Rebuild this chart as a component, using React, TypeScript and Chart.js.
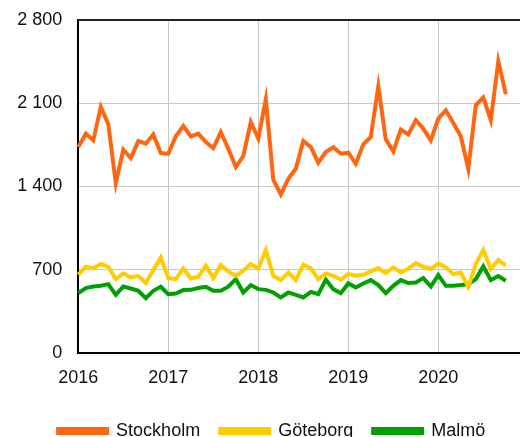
import React, { useEffect, useRef } from "react";
import { Chart, registerables } from "chart.js";

Chart.register(...registerables);

const years = [2016, 2017, 2018, 2019, 2020];
const monthNames = ["jan", "feb", "mar", "apr", "maj", "jun", "jul", "aug", "sep", "okt", "nov", "dec"];
// monthly categories Jan 2016 – Dec 2020, plus a short run-out into 2021 (off-screen)
const categories: string[] = [];
years.forEach((y) => monthNames.forEach((m) => categories.push(`${m} ${y}`)));
const runOut = ["jan 2021", "feb 2021", "mar 2021"];
runOut.forEach((c) => categories.push(c));

const stockholm = [
  1731, 1844, 1788, 2069, 1923, 1428, 1709, 1639, 1782, 1760, 1838, 1681,
  1676, 1822, 1909, 1822, 1844, 1774, 1723, 1858, 1718, 1563, 1656, 1942,
  1802, 2134, 1457, 1333, 1465, 1549, 1782, 1731, 1600, 1690, 1731, 1676,
  1684, 1591, 1754, 1816, 2243, 1794, 1695, 1878, 1838, 1957, 1887, 1788,
  1971, 2041, 1934, 1822, 1549, 2083, 2148, 1957, 2454, 2176,
];
const goteborg = [
  658, 725, 711, 748, 725, 621, 669, 635, 649, 588, 697, 804,
  630, 621, 711, 627, 641, 734, 630, 740, 686, 649, 692, 748,
  711, 866, 649, 613, 677, 613, 742, 711, 621, 669, 649, 616,
  664, 649, 658, 686, 714, 672, 720, 677, 711, 756, 725, 706,
  753, 720, 664, 677, 557, 748, 866, 706, 782, 734,
];
const malmo = [
  503, 546, 559, 565, 579, 489, 559, 542, 523, 461, 523, 557,
  495, 500, 529, 531, 546, 557, 523, 523, 557, 621, 509, 571,
  537, 531, 509, 467, 509, 489, 467, 514, 495, 616, 537, 503,
  585, 551, 585, 613, 571, 503, 565, 613, 588, 593, 630, 559,
  655, 565, 565, 571, 579, 621, 728, 613, 647, 607,
];
const seriesNames = ["Stockholm", "Göteborg", "Malmö"];
const seriesColors = ["#FF6611", "#FFCC00", "#00A000"];
const yTicks = [0, 700, 1400, 2100, 2800];

const FONT = "'Liberation Sans', Arial, sans-serif";
const W = 545;
const H = 450;

export default function App() {
  const ref = useRef<HTMLCanvasElement | null>(null);

  useEffect(() => {
    document.body.style.margin = "0";
    document.body.style.overflow = "hidden";
    const canvas = ref.current;
    if (!canvas) return;

    const topBorder = {
      id: "topBorder",
      afterDraw(chart: any) {
        const { ctx, chartArea } = chart;
        ctx.save();
        ctx.strokeStyle = "#222222";
        ctx.lineWidth = 2;
        ctx.beginPath();
        ctx.moveTo(chartArea.left - 1, chartArea.top);
        ctx.lineTo(chartArea.right + 10, chartArea.top);
        ctx.stroke();
        ctx.restore();
      },
    };

    const chart = new Chart(canvas, {
      type: "line",
      data: {
        labels: categories,
        datasets: [stockholm, goteborg, malmo].map((d, i) => ({
          label: seriesNames[i],
          data: d,
          borderColor: seriesColors[i],
          backgroundColor: seriesColors[i],
          borderWidth: 4,
          pointRadius: 0,
          tension: 0,
          fill: false,
        })),
      },
      options: {
        responsive: false,
        animation: false,
        layout: { padding: { left: 0, right: 1.7, top: 20, bottom: 0 } },
        plugins: {
          legend: {
            position: "bottom",
            labels: {
              boxWidth: 49,
              boxHeight: 4,
              padding: 20,
              color: "#111111",
              font: { family: FONT, size: 18 },
            },
          },
          tooltip: { enabled: false },
        },
        scales: {
          x: {
            type: "category",
            offset: false,
            afterFit(scale: any) {
              scale.height = 49;
              scale.paddingLeft = 0;
              scale.paddingRight = 0;
            },
            grid: {
              drawTicks: false,
              color: (ctx: any) =>
                ctx.index % 12 === 0 && ctx.index < years.length * 12 ? "#C8C8C8" : "rgba(0,0,0,0)",
            },
            border: { color: "#000000", width: 2 },
            ticks: {
              autoSkip: false,
              maxRotation: 0,
              padding: 14,
              color: "#111111",
              font: { family: FONT, size: 18 },
              callback: (_v: any, i: number) =>
                i % 12 === 0 && i < years.length * 12 ? String(years[i / 12]) : "",
            },
          },
          y: {
            min: yTicks[0],
            max: yTicks[yTicks.length - 1],
            afterFit(scale: any) {
              scale.width = 78.3;
              scale.paddingTop = 0;
              scale.paddingBottom = 0;
            },
            afterBuildTicks(scale: any) {
              scale.ticks = yTicks.map((v) => ({ value: v }));
            },
            grid: { drawTicks: false, color: "#C8C8C8" },
            border: { color: "#000000", width: 2 },
            ticks: {
              padding: 16,
              color: "#111111",
              font: { family: FONT, size: 18 },
              callback: (v: any) => String(v).replace(/\B(?=(\d{3})+(?!\d))/g, " "),
            },
          },
        },
      },
      plugins: [topBorder],
    } as any);

    return () => chart.destroy();
  }, []);

  return (
    <div style={{ position: "absolute", left: 0, top: 0, width: 520, height: 437, overflow: "hidden" }}>
      <canvas ref={ref} width={W} height={H} style={{ display: "block" }} />
    </div>
  );
}
